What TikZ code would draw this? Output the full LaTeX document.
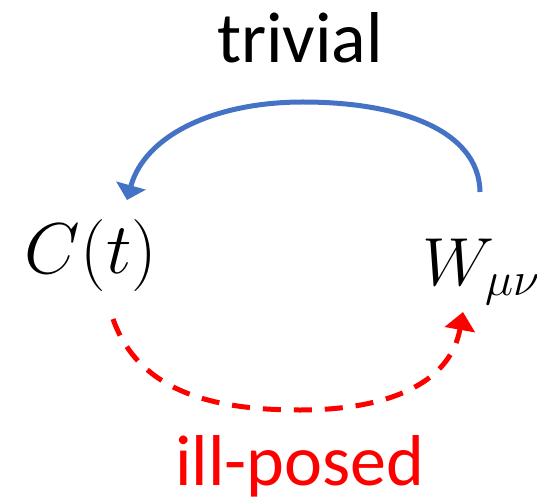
\RequirePackage{fix-cm}
\documentclass[tikz,border=0pt]{standalone}
\usepackage{fontspec}
\setmainfont{Carlito}
\usetikzlibrary{arrows.meta}
\definecolor{offblue}{HTML}{4472C4}
\definecolor{offred}{HTML}{FF0000}
\begin{document}
\begin{tikzpicture}[x=1pt,y=-1pt,
  lbl/.style={inner sep=0pt,anchor=base,font=\fontsize{72}{80}\selectfont},
  mathlbl/.style={inner sep=0pt,anchor=base,font=\fontsize{72}{80}\selectfont},
  solidarc/.style={draw=offblue,line width=5pt,-{Triangle[length=15pt,width=30pt]}},
  dasharc/.style={draw=offred,line width=5pt,dash pattern=on 18pt off 13pt,-{Triangle[length=18pt,width=30pt]}}]
\useasboundingbox (0,0) rectangle (537,502);
\node[lbl] (trivial) at (300,63) {trivial};
\node[lbl,text=offred] (illposed) at (300,485) {ill-posed};
\node[mathlbl] (C) at (91,273) {$C(t)$};
\node[mathlbl,anchor=base west,font=\fontsize{68}{76}\selectfont] (W) at (422,285) {$W_{\mu\nu}$};
\coordinate (Wtop) at (480,192);
\coordinate (Ctop) at (127,200);
\coordinate (Cbot) at (113,319);
\coordinate (Wbot) at (463,312);
\draw[solidarc] (Wtop) .. controls (479,128) and (395,102) .. (303,102)
  .. controls (215,102) and (145,135) .. (Ctop);
\draw[dasharc] (Cbot) .. controls (140,395) and (220,410) .. (300,410)
  .. controls (385,410) and (450,385) .. (Wbot);
\end{tikzpicture}
\end{document}
